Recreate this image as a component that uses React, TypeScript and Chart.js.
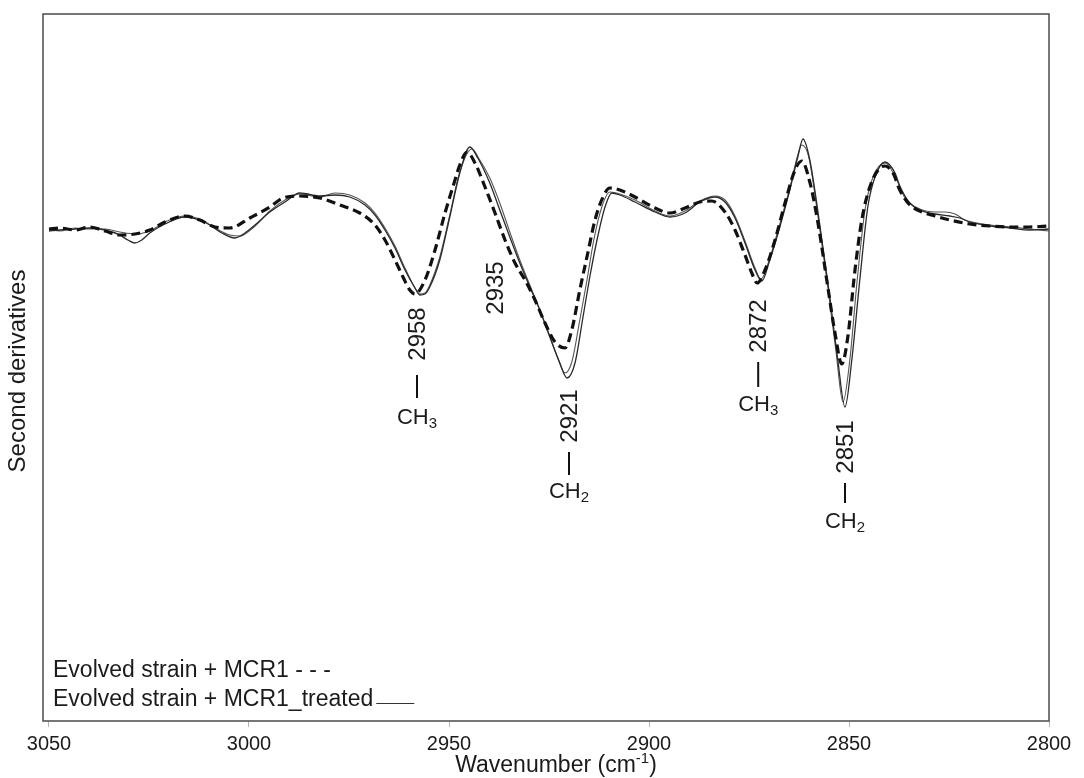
import React, { useEffect, useRef } from "react";
import { Chart, registerables } from "chart.js";

Chart.register(...registerables);

// ---------- data ----------
const xTickValues = [3050, 3000, 2950, 2900, 2850, 2800];

// Evolved strain + MCR1 (dashed)
const mcr1Wavenumber = [
  3050, 3047.3, 3043.5, 3039.8, 3036, 3032.3, 3028.5, 3024.8, 3021, 3016, 3012.3, 3008.5, 3004.8, 2999.8,
  2994.8, 2991.5, 2987.3, 2982.3, 2977.3, 2972.3, 2968.5, 2966, 2963.5, 2961.5, 2959.8, 2958.5, 2956,
  2953.5, 2951, 2948.5, 2947.3, 2945.5, 2943.5, 2941, 2938.5, 2936, 2933.5, 2931, 2928.5, 2926, 2923.5,
  2921, 2919.3, 2917.3, 2915.3, 2913.5, 2911.5, 2909.8, 2907.3, 2903.5, 2898.5, 2894.8, 2891, 2887.3,
  2884.3, 2881, 2878.5, 2876, 2874.3, 2873, 2871, 2868.5, 2866, 2863.5, 2861.8, 2859.8, 2857.8, 2855.3,
  2853.5, 2851.8, 2850.3, 2848.5, 2846.8, 2844.8, 2842.3, 2841, 2839, 2837.3, 2834.8, 2832.3, 2828.5,
  2824.8, 2819.8, 2814.8, 2809.8, 2804.8, 2800,
];
const mcr1Value = [
  -0.01, 0, -0.02, 0.01, -0.03, -0.07, -0.06, -0.02, 0.06, 0.12, 0.08, 0.01, 0, 0.1,
  0.21, 0.3, 0.32, 0.3, 0.23, 0.15, 0.03, -0.12, -0.32, -0.49, -0.62, -0.66, -0.52,
  -0.22, 0.15, 0.48, 0.63, 0.76, 0.65, 0.41, 0.15, -0.12, -0.35, -0.52, -0.72, -0.95, -1.14,
  -1.2, -1.02, -0.62, -0.25, 0.08, 0.31, 0.4, 0.38, 0.31, 0.2, 0.15, 0.2, 0.26,
  0.27, 0.16, -0.02, -0.27, -0.45, -0.55, -0.42, -0.12, 0.25, 0.58, 0.67, 0.46, 0.06, -0.59,
  -1.05, -1.36, -1.09, -0.42, 0.08, 0.41, 0.6, 0.62, 0.55, 0.38, 0.23, 0.17, 0.12,
  0.08, 0.04, 0.02, 0.01, 0.01, 0.02,
];

// Evolved strain + MCR1_treated (solid)
const treatedWavenumber = [
  3050, 3047.3, 3043.5, 3039.8, 3036, 3032.3, 3030.3, 3028.5, 3026.8, 3024.8, 3021, 3016, 3012.3, 3009.8,
  3006.8, 3003.5, 3001, 2998.5, 2994.8, 2991, 2987.3, 2982.3, 2978.5, 2974.8, 2971, 2968.5, 2966, 2963.5,
  2961, 2958.5, 2957.3, 2956, 2954.8, 2952.3, 2949.8, 2947.3, 2944.8, 2942.8, 2939.8, 2937.3, 2934.8,
  2932.3, 2929.8, 2927.3, 2924.8, 2922.3, 2920.5, 2918.5, 2916.5, 2914.8, 2913, 2911, 2909.3, 2907.3,
  2903.5, 2898.5, 2894.8, 2891, 2887.3, 2883.5, 2881, 2878.5, 2876, 2873.5, 2871.8, 2869.8, 2867.3,
  2864.8, 2862.8, 2861.5, 2859.8, 2857.3, 2854.8, 2852.8, 2851, 2849.3, 2847.3, 2845.3, 2843.5, 2841,
  2838.5, 2837.3, 2834.8, 2832.3, 2828.5, 2824.8, 2822.3, 2819.8, 2814.8, 2809.8, 2804.8, 2800,
];
const treatedValue = [
  -0.03, -0.02, -0.01, 0, -0.02, -0.07, -0.12, -0.15, -0.12, -0.05, 0.04, 0.11, 0.08, 0.03,
  -0.05, -0.1, -0.05, 0.03, 0.16, 0.26, 0.35, 0.32, 0.33, 0.31, 0.23, 0.13, -0.02, -0.2,
  -0.42, -0.6, -0.67, -0.66, -0.59, -0.32, 0.11, 0.55, 0.81, 0.7, 0.45, 0.18, -0.09,
  -0.35, -0.59, -0.82, -1.09, -1.35, -1.5, -1.35, -0.89, -0.49, -0.12, 0.21, 0.35, 0.33,
  0.26, 0.16, 0.11, 0.15, 0.26, 0.31, 0.26, 0.1, -0.15, -0.42, -0.53, -0.32, 0.01,
  0.38, 0.71, 0.89, 0.68, 0.03, -0.69, -1.32, -1.79, -1.32, -0.52, 0.21, 0.51, 0.66,
  0.55, 0.42, 0.25, 0.18, 0.14, 0.12, 0.1, 0.06, 0.02, 0, -0.02, -0.01,
];

// second treated trace (solid, thin)
const treatedRepWavenumber = [
  3050, 3047.3, 3043.5, 3039.8, 3036, 3032.3, 3028.5, 3024.8, 3021, 3016, 3012.3, 3008.5, 3004.8, 3002.3,
  2998.5, 2994.8, 2991, 2987.3, 2982.3, 2978.5, 2974.8, 2971, 2968.5, 2966, 2963.5, 2961, 2958.5, 2957.3,
  2956, 2954.8, 2952.3, 2949.8, 2947.3, 2944.3, 2942.3, 2939.8, 2937.3, 2934.8, 2932.3, 2929.8, 2927.3,
  2924.8, 2922.8, 2921, 2919.3, 2917.3, 2915.5, 2913.8, 2911.8, 2909.8, 2907.3, 2903.5, 2898.5, 2894.8,
  2891, 2887.3, 2883.5, 2881, 2878.5, 2876, 2873.5, 2872, 2869.8, 2867.3, 2864.8, 2863, 2861.8, 2860,
  2857.8, 2855.3, 2853.3, 2851.5, 2849.8, 2848, 2846, 2844, 2841, 2838.5, 2836, 2832.3, 2828.5, 2826,
  2823.5, 2821, 2814.8, 2809.8, 2804.8, 2800,
];
const treatedRepValue = [
  -0.01, -0.03, 0, -0.01, -0.01, -0.04, -0.06, -0.03, 0.06, 0.12, 0.09, 0, -0.07, -0.08,
  0.02, 0.17, 0.28, 0.34, 0.31, 0.35, 0.33, 0.25, 0.15, 0, -0.18, -0.4, -0.6, -0.66,
  -0.65, -0.57, -0.29, 0.13, 0.56, 0.79, 0.68, 0.5, 0.25, -0.04, -0.32, -0.57, -0.82,
  -1.08, -1.3, -1.45, -1.34, -0.92, -0.52, -0.12, 0.21, 0.36, 0.34, 0.28, 0.17, 0.12,
  0.17, 0.27, 0.32, 0.28, 0.12, -0.13, -0.4, -0.51, -0.3, 0.04, 0.4, 0.7, 0.83, 0.7,
  0.13, -0.59, -1.22, -1.74, -1.32, -0.54, 0.18, 0.51, 0.65, 0.52, 0.3, 0.19, 0.16, 0.16,
  0.14, 0.08, 0.03, 0.01, -0.01, -0.03,
];

const legendTexts = ["Evolved strain + MCR1 - - -", "Evolved strain + MCR1_treated"];
const bandLabels = ["2958", "2935", "2921", "2872", "2851"];
const bandGroups = ["CH", "", "CH", "CH", "CH"];
const bandGroupSubs = ["3", "", "2", "3", "2"];

// ---------- layout (positions in axis units) ----------
const bandLayout = [
  { x: 2958, num: -1.06, lineTop: -1.47, lineBot: -1.7, grp: -1.9 },
  { x: 2938.5, num: -0.6, lineTop: 0, lineBot: 0, grp: 0 },
  { x: 2920, num: -1.88, lineTop: -2.24, lineBot: -2.47, grp: -2.64 },
  { x: 2872.7, num: -0.98, lineTop: -1.34, lineBot: -1.59, grp: -1.77 },
  { x: 2851, num: -2.19, lineTop: -2.55, lineBot: -2.75, grp: -2.94 },
];

const FONT = "'Liberation Sans', Arial, sans-serif";
const TEXT = "#1b1b1b";

const toPoints = (xs: number[], ys: number[]) => xs.map((x, i) => ({ x, y: ys[i] }));

const overlayPlugin = {
  id: "overlay",
  afterDraw(chart: any) {
    const { ctx, chartArea: ca, scales } = chart;
    const xs = scales.x;
    const ys = scales.y;
    ctx.save();
    // frame
    ctx.strokeStyle = "#555";
    ctx.lineWidth = 1.6;
    ctx.strokeRect(ca.left, ca.top, ca.right - ca.left, ca.bottom - ca.top);

    ctx.fillStyle = TEXT;
    // y title
    ctx.save();
    ctx.font = `24px ${FONT}`;
    ctx.translate(18, 371);
    ctx.rotate(-Math.PI / 2);
    ctx.textAlign = "center";
    ctx.textBaseline = "middle";
    ctx.fillText("Second derivatives", 0, 0);
    ctx.restore();

    // x title with superscript
    {
      const main1 = "Wavenumber (cm";
      const sup = "-1";
      const main2 = ")";
      ctx.font = `23px ${FONT}`;
      const w1 = ctx.measureText(main1).width;
      const w3 = ctx.measureText(main2).width;
      ctx.font = `15px ${FONT}`;
      const w2 = ctx.measureText(sup).width;
      const total = w1 + w2 + w3;
      const cx = 556;
      const cy = 766;
      const sx = cx - total / 2;
      ctx.textAlign = "left";
      ctx.textBaseline = "middle";
      ctx.font = `23px ${FONT}`;
      ctx.fillText(main1, sx, cy);
      ctx.font = `15px ${FONT}`;
      ctx.fillText(sup, sx + w1, cy - 7);
      ctx.font = `23px ${FONT}`;
      ctx.fillText(main2, sx + w1 + w2, cy);
    }

    // legend texts
    ctx.font = `23px ${FONT}`;
    ctx.textAlign = "left";
    ctx.textBaseline = "middle";
    ctx.fillText(legendTexts[0], ca.left + 10, 671);
    ctx.fillText(legendTexts[1], ca.left + 10, 700);
    const lw = ctx.measureText(legendTexts[1]).width;
    ctx.strokeStyle = "#333";
    ctx.lineWidth = 1;
    ctx.beginPath();
    ctx.moveTo(ca.left + 10 + lw + 3, 703.5);
    ctx.lineTo(ca.left + 10 + lw + 41, 703.5);
    ctx.stroke();

    // band annotations
    bandLabels.forEach((lab, i) => {
      const L = bandLayout[i];
      const px = xs.getPixelForValue(L.x);
      ctx.save();
      ctx.font = `24px ${FONT}`;
      ctx.translate(px, ys.getPixelForValue(L.num));
      ctx.rotate(-Math.PI / 2);
      ctx.textAlign = "center";
      ctx.textBaseline = "middle";
      ctx.fillText(lab, 0, 1);
      ctx.restore();
      if (bandGroups[i]) {
        ctx.strokeStyle = "#111";
        ctx.lineWidth = 2;
        ctx.beginPath();
        ctx.moveTo(px, ys.getPixelForValue(L.lineTop));
        ctx.lineTo(px, ys.getPixelForValue(L.lineBot));
        ctx.stroke();
        ctx.font = `22px ${FONT}`;
        const g = bandGroups[i];
        const s = bandGroupSubs[i];
        const gw = ctx.measureText(g).width;
        ctx.font = `15px ${FONT}`;
        const sw = ctx.measureText(s).width;
        const gy = ys.getPixelForValue(L.grp);
        const sx = px - (gw + sw) / 2;
        ctx.textAlign = "left";
        ctx.textBaseline = "middle";
        ctx.font = `22px ${FONT}`;
        ctx.fillText(g, sx, gy);
        ctx.font = `15px ${FONT}`;
        ctx.fillText(s, sx + gw, gy + 6);
      }
    });
    ctx.restore();
  },
};

export default function App() {
  const ref = useRef<HTMLCanvasElement | null>(null);
  useEffect(() => {
    if (!ref.current) return;
    const chart = new Chart(ref.current, {
      type: "scatter",
      data: {
        datasets: [
          {
            label: "Evolved strain + MCR1",
            data: toPoints(mcr1Wavenumber, mcr1Value),
            showLine: true,
            borderColor: "#111",
            borderWidth: 3.2,
            borderDash: [9, 5],
            pointRadius: 0,
            cubicInterpolationMode: "monotone",
          },
          {
            label: "Evolved strain + MCR1_treated",
            data: toPoints(treatedWavenumber, treatedValue),
            showLine: true,
            borderColor: "#2a2a2a",
            borderWidth: 1.3,
            pointRadius: 0,
            cubicInterpolationMode: "monotone",
          },
          {
            label: "Evolved strain + MCR1_treated (2)",
            data: toPoints(treatedRepWavenumber, treatedRepValue),
            showLine: true,
            borderColor: "#555",
            borderWidth: 1.1,
            pointRadius: 0,
            cubicInterpolationMode: "monotone",
          },
        ],
      },
      options: {
        animation: false,
        responsive: false,
        events: [],
        layout: { padding: { left: 43, top: 14, right: 35, bottom: 0 } },
        plugins: { legend: { display: false }, tooltip: { enabled: false } },
        scales: {
          x: {
            type: "linear",
            reverse: true,
            min: 2800,
            max: 3051.5,
            afterBuildTicks: (s: any) => {
              s.ticks = xTickValues.map((v) => ({ value: v }));
            },
            afterFit: (s: any) => {
              s.height = 57;
            },
            border: { display: false },
            grid: { display: true, drawOnChartArea: false, drawTicks: true, tickLength: 6, color: "#b5b5b5" },
            ticks: {
              autoSkip: false,
              maxRotation: 0,
              padding: 5,
              color: TEXT,
              font: { family: FONT, size: 20 },
              callback: (v: any) => String(v),
            },
          },
          y: {
            type: "linear",
            display: false,
            min: -4.93,
            max: 2.14,
          },
        },
      },
      plugins: [overlayPlugin],
    });
    return () => chart.destroy();
  }, []);
  return (
    <div style={{ position: "absolute", left: 0, top: 0, width: 1084, height: 778, background: "#fff" }}>
      <canvas ref={ref} width={1084} height={778} style={{ width: 1084, height: 778, display: "block" }} />
    </div>
  );
}
